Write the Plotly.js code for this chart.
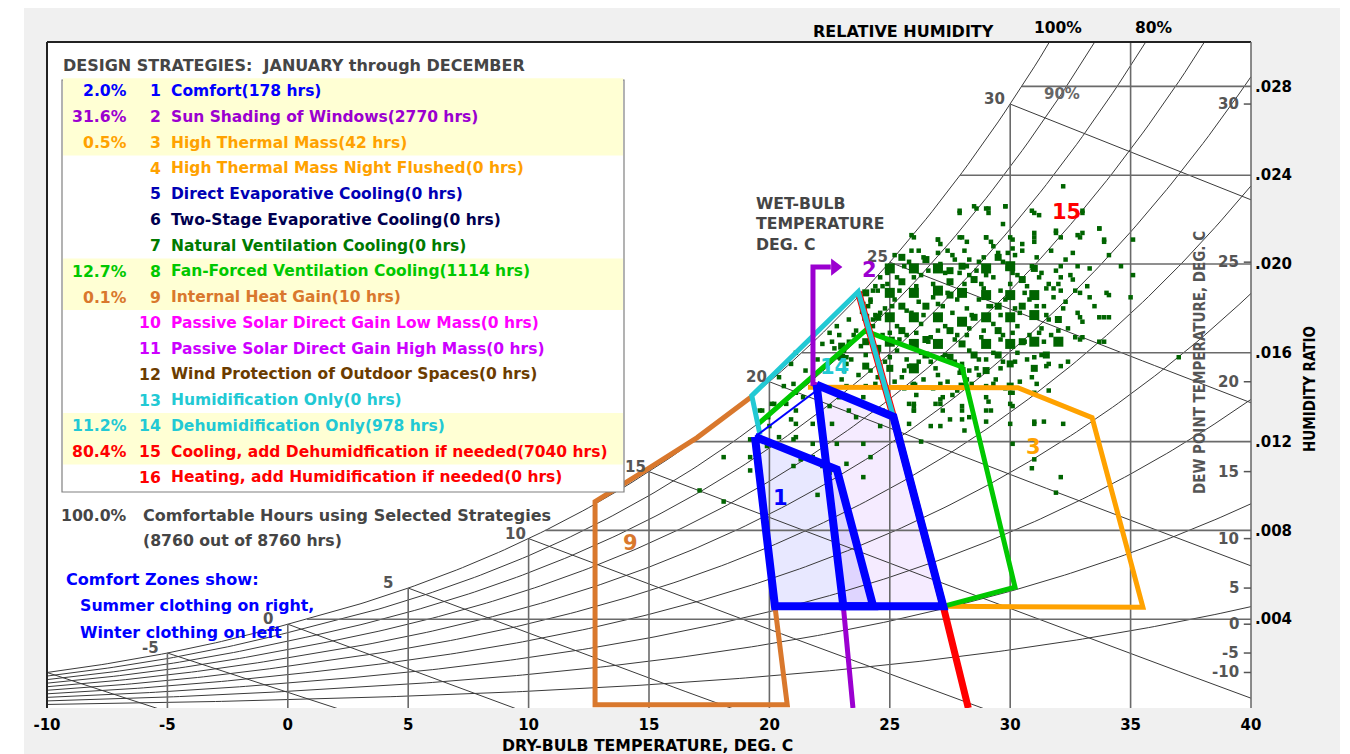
<!DOCTYPE html>
<html><head><meta charset="utf-8">
<script src="https://cdn.plot.ly/plotly-3.0.1.min.js"></script>
<style>html,body{margin:0;padding:0;background:#fff;}#chart{width:1350px;height:754px;}</style>
</head><body><div id="chart"></div>
<script>
// ================= DATA =================
const xTicks = [-10,-5,0,5,10,15,20,25,30,35,40];
const wTicks = [0.004,0.008,0.012,0.016,0.020,0.024,0.028];
const wTickText = ['.004','.008','.012','.016','.020','.024','.028'];
const rhLevels = [0.1,0.2,0.3,0.4,0.5,0.6,0.7,0.8,0.9,1.0];
const dbLines = [-5,0,5,10,15,20,25,30,35];
const wbLines = [-10,-5,0,5,10,15,20,25,30];
const wbLabels = [-5,0,5,10,15,20,25,30];
const dewLabels = [30,25,20,15,10,5,0,-5,-10];

// Strategy zones (dry-bulb T, humidity ratio W)
const comfortWinterT = [19.40,22.80,24.31,20.23];
const comfortWinterW = [0.01222,0.01074,0.00458,0.00458];
const comfortSummerT = [21.96,25.15,27.22,23.07];
const comfortSummerW = [0.01456,0.01312,0.00458,0.00458];
const comfortLinkT = [19.40,21.96];
const comfortLinkW = [0.01222,0.01430];
const zone2T = [23.47,23.07,21.96,21.81,21.81,22.55];
const zone2W = [0.0,0.00458,0.01456,0.01460,0.01986,0.01986];
const zone3T = [21.6,30.32,33.40,35.51,27.22];
const zone3W = [0.01445,0.01443,0.01308,0.00454,0.00458];
const zone8T = [19.55,23.97,28.00,30.20,27.22];
const zone8W = [0.01281,0.01699,0.01537,0.00544,0.00458];
const zone9T = [20.23,20.74,12.76,12.76,15.0,17.0,19.27];
const zone9W = [0.00458,0.00015,0.00015,0.0093,0.0108,0.01218,0.01403];
const zone14T = [19.61,19.27,23.69,25.15];
const zone14W = [0.01231,0.01407,0.01875,0.01312];
const zone15T = [23.69,25.15,27.22,28.26];
const zone15W = [0.01875,0.01312,0.00458,0.0];

// Hourly climate points (green squares): many hours -> big, some -> medium, few -> small
const bigT = [25,25,25,25,26,26,26,26,27,27,27,27,28,28,29,29,29,29,30,30,30,30,31,31,31,32,26];
const bigW = [0.0198,0.0187,0.0176,0.0165,0.0198,0.0187,0.0176,0.0164,0.0198,0.0188,0.0176,0.0164,0.0187,0.0174,0.0198,0.0186,0.0176,0.0164,0.0199,0.0186,0.0176,0.0164,0.0186,0.0177,0.0165,0.0165,0.0153];
const medT = [28,28,31,30,31,32,24,24,24,23.9,25.5,26.5,27.5,28.5,29.5,30.5,26.5,28.5,27.5,29.5,25.5,30.5,
 25.5,26.5,27.5,29.5,24.5,26.5,27.5,28.5,29.5,30.5,25.5,27.5,24.5,31.5,24,25,28,29,23,23,30,28,26];
const medW = [0.0199,0.0164,0.0198,0.0155,0.0153,0.0175,0.0187,0.0176,0.0165,0.0179,0.0192,0.0181,0.0170,0.0193,0.0170,0.0181,0.0159,0.0159,0.0192,0.0181,0.0170,0.0193,
 0.0203,0.0202,0.0197,0.0203,0.0176,0.0166,0.0186,0.0176,0.0159,0.0165,0.0181,0.0158,0.0162,0.0159,0.0154,0.0153,0.0152,0.0152,0.0163,0.0158,0.0145,0.0145,0.0145];
const smallT = [
 32.2,27.9,28.5,29.0,29.1,29.8,29.7,30.9,31.2,33.0,31.9,32.1,31.0,31.0,32.8,33.0,33.7,33.9,30.1,30.1,30.5,30.5,29.3,29.0,29.2,27.9,28.2,27.0,27.1,25.9,26.2,27.4,29.9,28.7,28.3,32.6,34.1,34.6,32.1,32.8,33.3,32.1,32.6,31.8,32.1,32.9,33.3,34.1,32.9,33.7,34.1,31.6,32.9,33.7,31.4,31.5,32.1,31.0,30.0,29.3,29.0,30.0,29.0,27.2,28.0,27.1,27.1,31.0,31.4,29.0,26.0,26.0,25.8,27.9,28.3,
 19.7,19.95,20.2,21.0,21.1,20.9,21.4,22.1,22.5,22.9,23.1,23.2,23.3,23.6,23.9,24.2,22.2,22.7,22.9,23.2,23.8,22.5,22.8,24.5,24.5,24.7,25.8,26.0,26.9,27.2,28.0,28.3,27.5,25.8,26.7,24.6,23.9,24.2,23.9,22.8,21.8,21.1,20.4,19.9,19.2,21.3,21.0,21.8,22.2,22.5,22.9,23.2,21.1,20.7,21.8,22.6,20.0,20.6,20.9,21.5,22.0,21.1,20.4,24.2,24.5,24.6,24.2,24.3,
 18.1,19.2,17.1,18.1,19.2,19.6,20.1,22.0,21.0,21.1,
 35.1,35.0,34.0,33.9,33.0,33.0,33.9,37.0,31.1,31.0,32.2,31.0,30.9,32.1,31.9,29.2,29.1,30.1,30.1,30.0,28.1,28.0,27.1,26.0,26.0,27.1,26.3,
 27.9,28.6,29.1,29.8,31.0,33.0,33.7,35.1,33.9,32.9,31.9,31.0,30.0,29.0,28.0,27.0,26.0,
 24.4,24.7,25.3,25.8,26.3,26.8,27.3,27.7,28.3,28.8,29.3,29.7,30.3,30.7,31.3,31.6,
 24.2,24.8,25.2,25.7,26.2,26.8,27.2,27.8,28.2,28.7,29.2,29.8,30.2,30.8,31.4,31.8,32.3,
 24.3,24.7,25.3,25.7,26.3,26.7,27.3,27.8,28.3,28.8,29.3,29.7,30.3,30.8,31.3,31.7,32.4,
 24.4,24.8,25.3,25.7,26.3,26.7,27.3,27.7,28.3,28.7,29.3,29.7,30.3,30.7,31.3,
 23.3,23.6,23.2,23.7,24.4,25.2,25.6,26.4,26.8,27.4,27.8,28.4,28.7,29.4,29.8,30.4,
 25.2,25.9,26.4,27.0,27.6,28.1,28.9,29.5,30.2,31.1,31.7,32.3,
 24.9,25.6,26.0,26.6,27.1,27.9,28.2,28.6,29.0,29.9,30.1,30.9,31.2,31.9,32.5,
 24.3,24.9,25.4,26.1,26.9,27.4,28.1,28.9,29.6,30.0,30.6,31.5,32.0,32.7,33.2,
 23.9,24.6,25.1,25.9,26.4,27.0,27.6,28.4,29.1,29.6,30.4,31.1,31.5,32.2,32.8,33.5,
 23.5,24.1,25.0,25.4,26.1,26.6,27.0,27.7,28.2,28.9,29.6,30.1,30.6,31.2,32.0,32.7,
 23.4,24.0,24.6,25.0,25.6,26.2,26.9,27.2,28.0,28.6,29.0,29.6,30.2,31.0,31.6,32.4,
 23.0,24.0,24.9,25.5,26.1,27.0,27.6,28.2,29.0,30.1,30.9,31.6,
 23.8,24.1,24.4,23.3,22.9,22.6,23.1];
const smallW = [
 0.0235,0.0223,0.0226,0.0225,0.0223,0.0226,0.0218,0.0224,0.0222,0.0224,0.0215,0.0212,0.0214,0.0210,0.0213,0.0214,0.0216,0.0210,0.0211,0.0207,0.0209,0.0206,0.0208,0.0212,0.0210,0.0212,0.0210,0.0211,0.0209,0.0213,0.0206,0.0206,0.0205,0.0201,0.0202,0.0205,0.0204,0.0199,0.0199,0.0199,0.0198,0.0194,0.0193,0.0189,0.0188,0.0187,0.0185,0.0186,0.0176,0.0176,0.0176,0.0175,0.0166,0.0165,0.0165,0.0154,0.0154,0.0142,0.0142,0.0146,0.0140,0.0137,0.0134,0.0134,0.0134,0.0139,0.0146,0.0129,0.0129,0.0129,0.0136,0.0146,0.0154,0.0151,0.0152,
 0.0134,0.0131,0.0137,0.0146,0.0142,0.0130,0.0140,0.0134,0.0136,0.0140,0.0152,0.0145,0.0134,0.0131,0.0140,0.0152,0.0164,0.0162,0.0158,0.0155,0.0163,0.0169,0.0172,0.0160,0.0149,0.0134,0.0137,0.0134,0.0137,0.0140,0.0136,0.0131,0.0130,0.0128,0.0127,0.0127,0.0119,0.0113,0.0104,0.0119,0.0119,0.0122,0.0122,0.0118,0.0107,0.0112,0.0109,0.0113,0.0109,0.0106,0.0101,0.0110,0.0134,0.0137,0.0128,0.0128,0.0127,0.0145,0.0155,0.0152,0.0157,0.0160,0.0149,0.0184,0.0188,0.0194,0.0167,0.0175,
 0.0113,0.0113,0.0098,0.0093,0.0121,0.0134,0.0137,0.0096,0.0121,0.0128,
 0.0195,0.0185,0.0187,0.0176,0.0174,0.0167,0.0165,0.0158,0.0146,0.0128,0.0128,0.0112,0.0108,0.0104,0.0097,0.0134,0.0138,0.0136,0.0119,0.0128,0.0125,0.0130,0.0137,0.0137,0.0134,0.0127,0.0120,
 0.0224,0.0225,0.0225,0.0226,0.0223,0.0223,0.0216,0.0211,0.0211,0.0212,0.0214,0.0212,0.0212,0.0212,0.0212,0.0211,0.0212,
 0.0190,0.0190,0.0194,0.0201,0.0195,0.0191,0.0196,0.0202,0.0195,0.0191,0.0194,0.0201,0.0195,0.0190,0.0196,0.0191,
 0.0183,0.0180,0.0184,0.0179,0.0183,0.0185,0.0181,0.0184,0.0180,0.0184,0.0181,0.0184,0.0180,0.0184,0.0181,0.0185,0.0183,
 0.0172,0.0168,0.0172,0.0168,0.0173,0.0167,0.0172,0.0168,0.0171,0.0167,0.0173,0.0168,0.0172,0.0168,0.0171,0.0168,0.0171,
 0.0160,0.0156,0.0161,0.0157,0.0160,0.0156,0.0159,0.0156,0.0161,0.0157,0.0160,0.0156,0.0160,0.0157,0.0159,
 0.0165,0.0170,0.0158,0.0150,0.0146,0.0147,0.0144,0.0148,0.0144,0.0147,0.0143,0.0146,0.0150,0.0148,0.0144,0.0147,
 0.0204,0.0206,0.0203,0.0205,0.0204,0.0206,0.0203,0.0205,0.0204,0.0203,0.0206,0.0202,
 0.0196,0.0199,0.0194,0.0197,0.0200,0.0196,0.0199,0.0197,0.0195,0.0198,0.0196,0.0199,0.0194,0.0197,0.0195,
 0.0188,0.0191,0.0188,0.0190,0.0189,0.0187,0.0191,0.0189,0.0188,0.0191,0.0187,0.0189,0.0191,0.0188,0.0190,
 0.0182,0.0178,0.0181,0.0178,0.0177,0.0182,0.0178,0.0177,0.0181,0.0177,0.0178,0.0181,0.0177,0.0180,0.0178,0.0181,
 0.0168,0.0170,0.0169,0.0166,0.0169,0.0165,0.0170,0.0166,0.0168,0.0170,0.0166,0.0169,0.0165,0.0169,0.0170,0.0167,
 0.0157,0.0159,0.0154,0.0158,0.0152,0.0156,0.0153,0.0158,0.0155,0.0153,0.0157,0.0153,0.0156,0.0158,0.0155,0.0156,
 0.0148,0.0145,0.0142,0.0149,0.0141,0.0150,0.0141,0.0148,0.0145,0.0142,0.0149,0.0143,
 0.0185,0.0181,0.0177,0.0175,0.0168,0.0165,0.0161];

// Zone number labels
const zoneLabelText = ['1','2','3','9','14','15'];
const zoneLabelT = [20.44,24.14,30.95,14.25,22.69,32.32];
const zoneLabelW = [0.00948,0.01973,0.01177,0.00742,0.01537,0.02234];

// Legend table
const legendPct = ['2.0%','31.6%','0.5%','','','','','12.7%','0.1%','','','','','11.2%','80.4%',''];
const legendNum = ['1','2','3','4','5','6','7','8','9','10','11','12','13','14','15','16'];
const legendText = ['Comfort(178 hrs)','Sun Shading of Windows(2770 hrs)','High Thermal Mass(42 hrs)',
 'High Thermal Mass Night Flushed(0 hrs)','Direct Evaporative Cooling(0 hrs)','Two-Stage Evaporative Cooling(0 hrs)',
 'Natural Ventilation Cooling(0 hrs)','Fan-Forced Ventilation Cooling(1114 hrs)','Internal Heat Gain(10 hrs)',
 'Passive Solar Direct Gain Low Mass(0 hrs)','Passive Solar Direct Gain High Mass(0 hrs)',
 'Wind Protection of Outdoor Spaces(0 hrs)','Humidification Only(0 hrs)','Dehumidification Only(978 hrs)',
 'Cooling, add Dehumidfication if needed(7040 hrs)','Heating, add Humidification if needed(0 hrs)'];

// ================= STYLE =================
const C = {blue:'#0000ff',purple:'#9b00d0',orange:'#ffa200',dblue:'#0000b4',navy:'#000050',dgreen:'#007a00',
  green:'#00c800',brown:'#d9782d',magenta:'#ff00ff',violet:'#cc00ff',wood:'#6b3c00',cyan:'#22c9d4',red:'#ff0000'};
const legendColor = [C.blue,C.purple,C.orange,C.orange,C.dblue,C.navy,C.dgreen,C.green,C.brown,C.magenta,C.violet,C.wood,C.cyan,C.cyan,C.red,C.red];
const FONT = 'DejaVu Sans, Verdana, sans-serif';
const FONTC = 'DejaVu Sans Condensed, DejaVu Sans, sans-serif';
const FS = 15.7;

// ================= PSYCHROMETRICS =================
const PATM = 101.325;
function pws(T){const K=T+273.15;let l;
 if(T>=0) l=-5.8002206e3/K+1.3914993-4.8640239e-2*K+4.1764768e-5*K*K-1.4452093e-8*K*K*K+6.5459673*Math.log(K);
 else l=-5.6745359e3/K+6.3925247-9.677843e-3*K+6.2215701e-7*K*K+2.0747825e-9*K*K*K-9.484024e-13*K*K*K*K+4.1635019*Math.log(K);
 return Math.exp(l)/1000;}
function wRh(T,rh){const p=rh*pws(T);return 0.622*p/(PATM-p);}
function ws(T){return wRh(T,1);}
function dew(W){let lo=-40,hi=60;for(let i=0;i<60;i++){const m=(lo+hi)/2;if(ws(m)<W)lo=m;else hi=m;}return (lo+hi)/2;}
function wbW(Twb,T){const s=ws(Twb);
 if(Twb>=0) return ((2501-2.326*Twb)*s-1.006*(T-Twb))/(2501+1.86*T-4.186*Twb);
 return ((2830-0.24*Twb)*s-1.006*(T-Twb))/(2830+1.86*T-2.1*Twb);}

const traces = [];
const line = (x,y,color,width,extra)=>Object.assign({type:'scatter',mode:'lines',x,y,line:{color,width},hoverinfo:'skip',showlegend:false},extra||{});

// comfort fills (below grid)
traces.push(line(comfortWinterT.concat([comfortWinterT[0]]),comfortWinterW.concat([comfortWinterW[0]]),'rgba(0,0,0,0)',0,{fill:'toself',fillcolor:'rgba(0,0,255,0.09)'}));
traces.push(line(comfortSummerT.concat([comfortSummerT[0]]),comfortSummerW.concat([comfortSummerW[0]]),'rgba(0,0,0,0)',0,{fill:'toself',fillcolor:'rgba(130,0,255,0.08)'}));

// grid: RH curves
const tGrid=[];for(let t=-10;t<=40.001;t+=0.25)tGrid.push(t);
rhLevels.forEach(rh=>{traces.push(line(tGrid,tGrid.map(t=>wRh(t,rh)),'#3a3a3a',1));});
// wet-bulb lines
wbLines.forEach(tw=>{const xs=[],ys=[];for(let t=tw;t<=40.001;t+=0.5){xs.push(t);ys.push(wbW(tw,t));}traces.push(line(xs,ys,'#3a3a3a',1));});
// vertical dry-bulb lines
dbLines.forEach(t=>{traces.push(line([t,t],[0,Math.min(ws(t),0.0302)],'#6a6a6a',1.6));});
// horizontal humidity-ratio lines
wTicks.forEach(w=>{traces.push(line([dew(w),40],[w,w],'#6a6a6a',1.6));});

// climate points
const mk=(x,y,s)=>({type:'scatter',mode:'markers',x,y,marker:{symbol:'square',size:s,color:'#006400',line:{width:0}},hoverinfo:'skip',showlegend:false});
traces.push(mk(smallT,smallW,4.5));
traces.push(mk(medT,medW,7));
traces.push(mk(bigT,bigW,10));

// zone outlines
traces.push(line(zone9T,zone9W,C.brown,5));
traces.push(line(zone3T,zone3W,C.orange,5));
traces.push(line(zone8T,zone8W,C.green,5));
traces.push(line(zone15T,zone15W,C.red,7));
traces.push(line(zone14T,zone14W,C.cyan,5));
traces.push(line(zone2T,zone2W,C.purple,5));
traces.push({type:'scatter',mode:'markers',x:[22.72],y:[zone2W[zone2W.length-1]],marker:{symbol:'triangle-right',size:15,color:C.purple},hoverinfo:'skip',showlegend:false});
traces.push(line(comfortLinkT,comfortLinkW,C.blue,2));
traces.push(line(comfortWinterT.concat([comfortWinterT[0]]),comfortWinterW.concat([comfortWinterW[0]]),C.blue,8));
traces.push(line(comfortSummerT.concat([comfortSummerT[0]]),comfortSummerW.concat([comfortSummerW[0]]),C.blue,8));

// ================= ANNOTATIONS & SHAPES =================
const L=47,R=1251,TOP=42,BOT=708;
const px=x=>(x-L)/(R-L), py=y=>(BOT-y)/(BOT-TOP);
const anns=[], shapes=[];
function txt(text,x,y,o){o=o||{};anns.push({text:'<b>'+text+'</b>',x:px(x),y:py(y),xref:'paper',yref:'paper',showarrow:false,
  xanchor:o.xa||'left',yanchor:o.ya||'middle',textangle:o.rot||0,borderpad:0,
  font:{family:o.fam||FONT,size:o.size||FS,color:o.color||'#000'}});}
function dtxt(text,x,y,o){o=o||{};anns.push({text:'<b>'+text+'</b>',x,y,xref:'x',yref:'y',showarrow:false,
  xanchor:o.xa||'center',yanchor:o.ya||'middle',xshift:o.xs||0,yshift:o.ys||0,borderpad:0,
  font:{family:FONT,size:o.size||15,color:o.color||'#555'}});}

// outer white margins + frame
shapes.push({type:'rect',xref:'paper',yref:'paper',x0:px(-5),x1:px(24),y0:py(760),y1:py(-5),fillcolor:'#fff',line:{width:0},layer:'above'});
shapes.push({type:'rect',xref:'paper',yref:'paper',x0:px(-5),x1:px(1355),y0:py(8),y1:py(-5),fillcolor:'#fff',line:{width:0},layer:'above'});
shapes.push({type:'rect',xref:'paper',yref:'paper',x0:px(1340),x1:px(1355),y0:py(760),y1:py(-5),fillcolor:'#fff',line:{width:0},layer:'above'});
shapes.push({type:'line',xref:'paper',yref:'paper',x0:0,x1:1,y0:1,y1:1,line:{color:'#222',width:2},layer:'above'});
shapes.push({type:'line',xref:'paper',yref:'paper',x0:0,x1:0,y0:0,y1:1,line:{color:'#222',width:2},layer:'above'});
shapes.push({type:'line',xref:'paper',yref:'paper',x0:1,x1:1,y0:0,y1:1,line:{color:'#666',width:1.5},layer:'above'});

// legend box
shapes.push({type:'rect',xref:'paper',yref:'paper',x0:px(62),x1:px(624),y0:py(492),y1:py(80),fillcolor:'#fff',line:{color:'#808080',width:1.2},layer:'above'});
const rowH=25.75, row0=91;
let i=0;
while(i<legendPct.length){ if(legendPct[i]){let j=i;while(j+1<legendPct.length&&legendPct[j+1])j++;
  shapes.push({type:'rect',xref:'paper',yref:'paper',x0:px(63),x1:px(623),y0:py(row0+rowH*(j+0.5)),y1:py(row0+rowH*(i-0.5)),fillcolor:'#ffffd4',line:{width:0},layer:'above'});
  i=j+1;} else i++; }
txt('DESIGN STRATEGIES:  JANUARY through DECEMBER',62,66,{color:'#454545',size:16});
legendText.forEach((t,k)=>{const y=row0+rowH*k;
  if(legendPct[k]) txt(legendPct[k],128,y,{xa:'right',color:legendColor[k]});
  txt(legendNum[k],162,y,{xa:'right',color:legendColor[k]});
  txt(t,170,y,{color:legendColor[k],size:15.5});});
txt('100.0%',128,515,{xa:'right',color:'#454545'});
txt('Comfortable Hours using Selected Strategies',142,515,{color:'#454545',size:16});
txt('(8760 out of 8760 hrs)',142,540,{color:'#454545'});
txt('Comfort Zones show:',65,579,{color:'#0000ff',size:16.1});
txt('Summer clothing on right,',79,605,{color:'#0000ff',size:15.8});
txt('Winter clothing on left',79,632,{color:'#0000ff',size:15.8});

// top / side titles
txt('RELATIVE HUMIDITY',812,31,{size:16});
const t100=dew(0.030); let t80=t100; while(wRh(t80,0.8)<0.030)t80+=0.01;
anns.push({text:'<b>100%</b>',x:t100,y:0.030,xref:'x',yref:'y',showarrow:false,xanchor:'center',yanchor:'bottom',xshift:8,yshift:3,font:{family:FONT,size:15.5,color:'#000'}});
anns.push({text:'<b>80%</b>',x:t80,y:0.030,xref:'x',yref:'y',showarrow:false,xanchor:'center',yanchor:'bottom',xshift:8,yshift:3,font:{family:FONT,size:15.5,color:'#000'}});
dtxt('90%',32.15,0.02768,{color:'#666'});
txt('WET-BULB',755,203,{color:'#454545'});
txt('TEMPERATURE',755,224,{color:'#454545'});
txt('DEG. C',755,245,{color:'#454545'});
txt('DEW POINT TEMPERATURE, DEG. C',1200,363,{xa:'center',rot:-90,color:'#555',fam:FONTC,size:15});
txt('HUMIDITY RATIO',1310,389,{xa:'center',rot:-90,fam:FONTC,size:15});
txt('DRY-BULB TEMPERATURE, DEG. C',647,745,{xa:'center'});

// wet-bulb labels on saturation curve
const wbShift=[-7,-14,-14,-2,-2,-1,-1,-4];
wbLabels.forEach((t,k)=>dtxt(String(t),t,ws(t),{xa:'right',ya:'bottom',xs:wbShift[k],ys:-5,color:'#555'}));
// dew point scale on right
dewLabels.forEach(t=>{const w=ws(t);
  dtxt(String(t),39.55,w,{xa:'right',color:'#555'});
  shapes.push({type:'line',xref:'x',yref:'y',x0:39.7,x1:40,y0:w,y1:w,line:{color:'#555',width:1.5}});});
// zone number labels
const zoneLabelColor=[C.blue,C.purple,C.orange,C.brown,C.cyan,C.red];
zoneLabelText.forEach((t,k)=>dtxt(t,zoneLabelT[k],zoneLabelW[k],{color:zoneLabelColor[k],size:21}));

const layout={width:1350,height:754,margin:{l:L,r:1350-R,t:TOP,b:754-BOT,pad:0},
 paper_bgcolor:'#f0f0f0',plot_bgcolor:'#ffffff',showlegend:false,
 xaxis:{range:[-10,40],tickvals:xTicks,ticktext:xTicks.map(v=>'<b>'+v+'</b>'),showgrid:false,zeroline:false,showline:false,ticks:'',
   ticklabelstandoff:6,tickfont:{family:FONT,size:15,color:'#000'},fixedrange:true},
 yaxis:{range:[0,0.030],side:'right',tickvals:wTicks,ticktext:wTickText.map(v=>'<b>'+v+'</b>'),showgrid:false,zeroline:false,showline:false,ticks:'',
   ticklabelstandoff:3,tickfont:{family:FONT,size:15,color:'#000'},fixedrange:true},
 annotations:anns,shapes:shapes};
Plotly.newPlot('chart',traces,layout,{staticPlot:true,displayModeBar:false});
</script></body></html>
